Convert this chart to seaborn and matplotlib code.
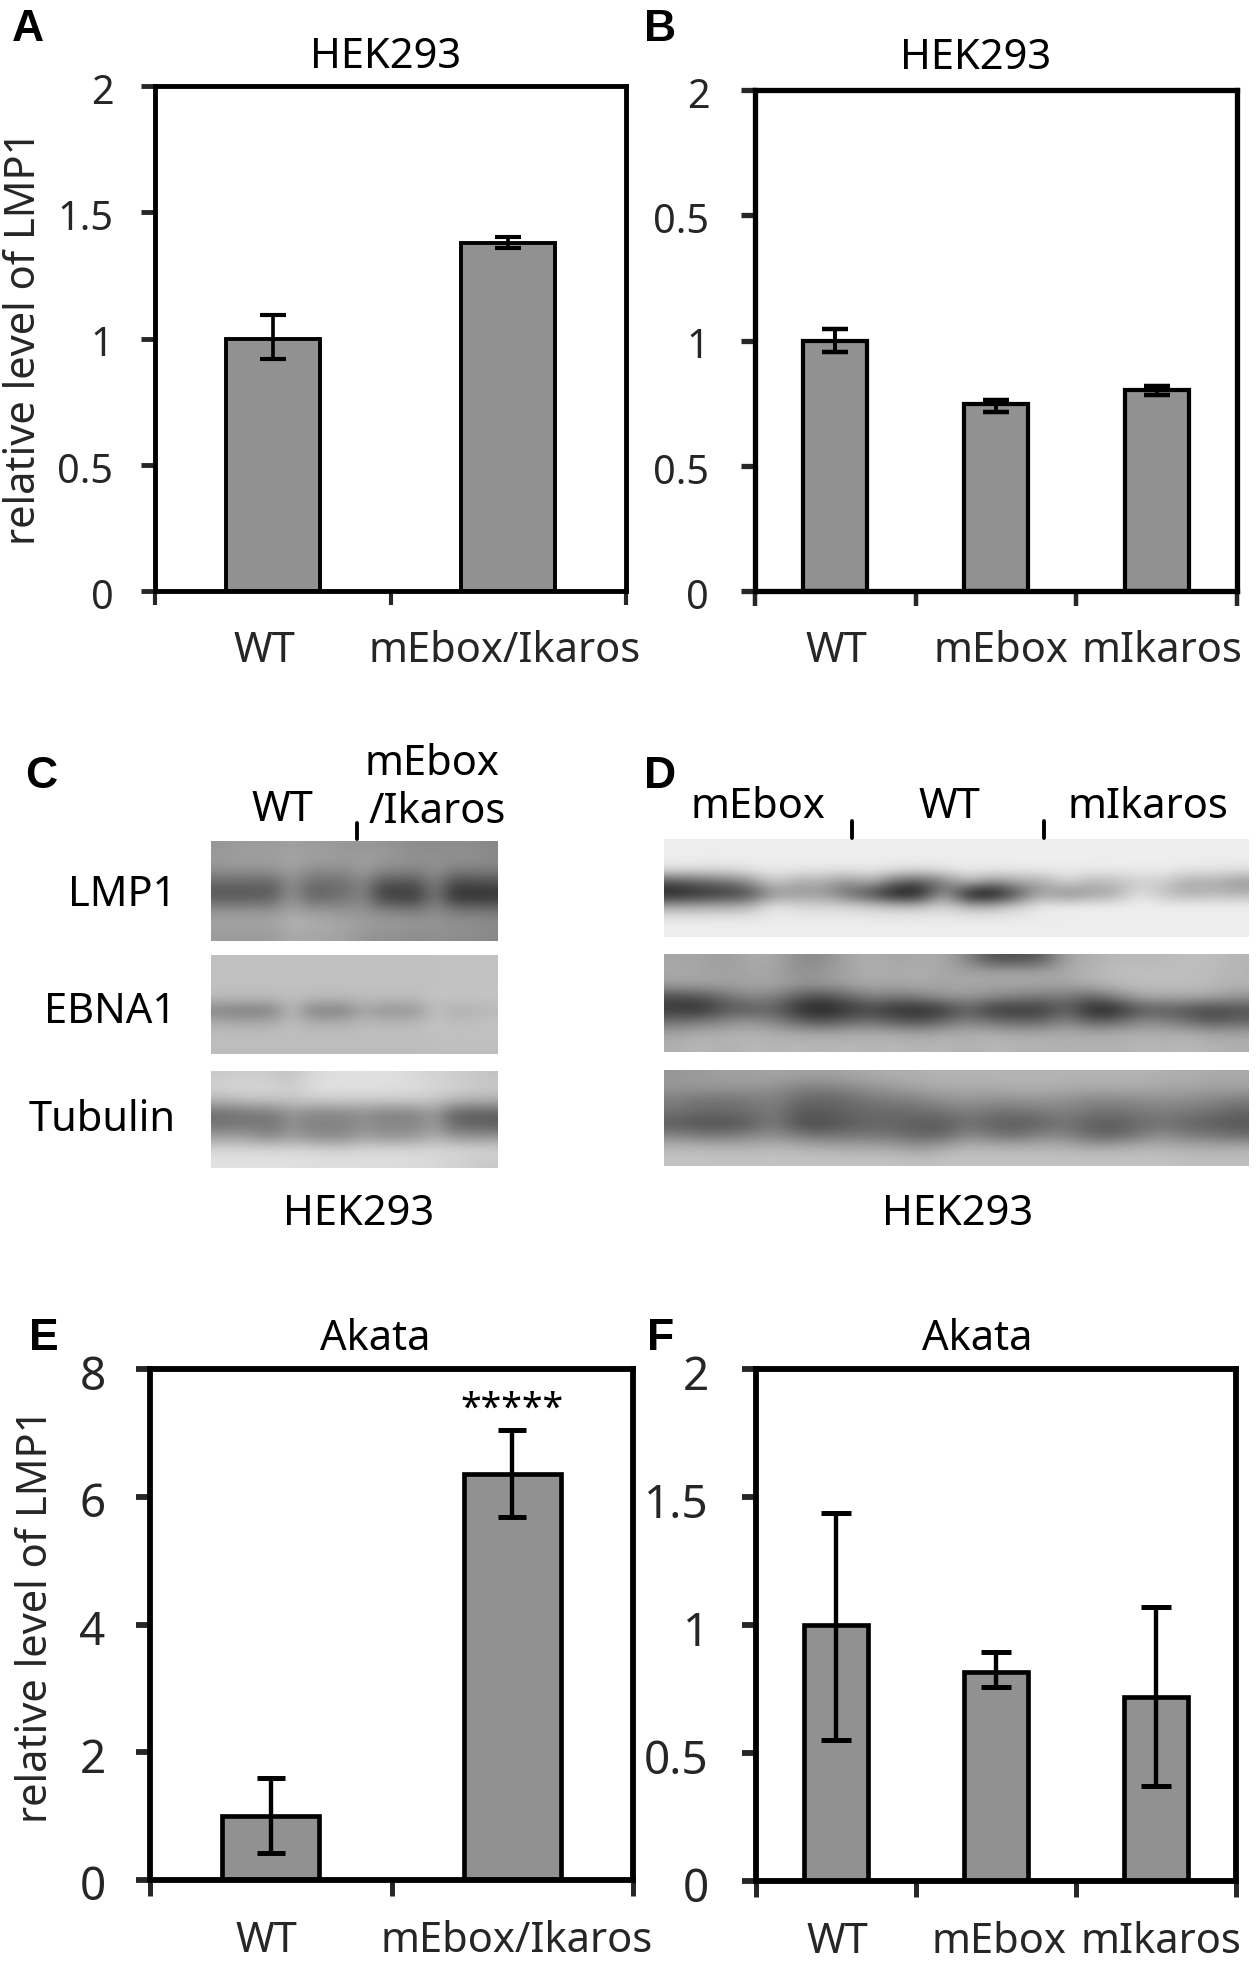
import numpy as np
import pandas as pd
import seaborn as sns
import matplotlib.pyplot as plt
from matplotlib.lines import Line2D
from matplotlib.transforms import ScaledTranslation

W, H = 1257, 1966

# bar values
a_groups = ['WT', 'mEbox/Ikaros']
a_level = [1.0, 1.38]
a_low = [0.92, 1.358]
a_high = [1.093, 1.402]

b_groups = ['WT', 'mEbox', 'mIkaros']
b_level = [1.0, 0.746, 0.803]
b_low = [0.953, 0.715, 0.781]
b_high = [1.045, 0.764, 0.817]

e_groups = ['WT', 'mEbox/Ikaros']
e_level = [1.0, 6.36]
e_low = [0.43, 5.68]
e_high = [1.6, 7.04]

f_groups = ['WT', 'mEbox', 'mIkaros']
f_level = [1.0, 0.818, 0.719]
f_low = [0.549, 0.758, 0.373]
f_high = [1.437, 0.893, 1.07]

ticks_2 = [0, 0.5, 1, 1.5, 2]
ticks_8 = [0, 2, 4, 6, 8]
labels_2 = ['0', '0.5', '1', '1.5', '2']
labels_b = ['0', '0.5', '1', '0.5', '2']  # the original panel really says 0.5 twice
labels_8 = ['0', '2', '4', '6', '8']

# blot grey levels, read by eye on a coarse grid (0 black, 255 white)
c_lmp1 = [
    [150,155,155,155,160,155,155,150,150,150,145,140,140,140,140,135],
    [155,160,160,160,165,160,160,155,160,155,150,145,145,145,145,140],
    [140,140,140,140,160,135,135,135,155,130,130,125,145,120,120,120],
    [95,95,95,95,145,105,105,110,135,75,75,75,130,65,65,70],
    [90,90,90,95,150,100,105,115,135,65,60,60,125,50,50,50],
    [145,145,145,145,165,150,150,145,145,130,125,120,140,120,115,115],
    [165,165,165,165,180,175,170,165,160,155,155,150,150,145,145,140],
    [155,155,155,155,170,165,165,160,150,145,145,140,145,140,140,135],
]
c_ebna1 = [
    [192,192,192,192,192,192,192,192,192,192,192,192,192,194,194,194],
    [192,192,192,192,192,192,192,192,192,192,192,192,193,194,194,194],
    [192,192,192,192,192,192,192,192,192,192,192,192,193,194,194,194],
    [185,185,185,185,190,185,185,185,188,188,188,188,195,195,195,195],
    [128,122,122,128,188,128,125,128,165,145,145,150,192,172,178,182],
    [175,172,172,175,188,178,175,178,186,184,184,186,195,190,190,195],
    [190,190,190,190,190,190,190,190,190,190,190,190,192,192,192,192],
    [188,188,188,188,188,188,188,188,188,188,188,188,190,190,190,190],
]
c_tubulin = [
    [200,205,205,200,195,215,220,222,222,222,220,215,210,205,200,195],
    [210,215,215,215,205,220,225,225,225,225,222,220,215,210,205,200],
    [180,185,190,190,195,200,200,200,200,200,200,200,195,180,175,175],
    [110,115,120,125,150,135,135,135,145,130,130,135,155,100,95,95],
    [115,120,120,115,145,130,130,130,145,135,135,135,155,105,100,95],
    [160,160,150,140,160,140,140,140,160,150,150,155,175,155,150,150],
    [215,215,215,215,215,215,210,210,215,215,215,215,215,215,212,210],
    [225,225,225,225,225,222,222,222,222,222,220,218,215,210,205,200],
]
d_lmp1 = [
    [236,236,236,236,236,236,236,236,236,236,236,236,236,236,236,236,236,236,236,236,236,236,236,236],
    [238,238,238,238,238,238,238,238,238,238,238,238,238,238,238,238,238,238,238,238,238,238,238,238],
    [225,220,220,228,235,232,232,228,235,225,222,228,236,232,235,235,236,234,234,235,236,230,228,226],
    [80,100,110,140,205,165,175,140,175,100,85,120,190,140,170,165,215,180,190,205,205,165,175,150],
    [30,45,55,70,150,150,155,110,70,15,15,170,5,0,80,170,130,160,165,230,190,175,185,180],
    [170,170,175,180,235,215,215,215,205,195,195,215,180,185,210,235,240,240,240,240,240,240,240,240],
    [232,232,232,232,234,234,234,234,234,234,234,234,234,234,234,234,235,235,235,235,235,235,235,235],
    [238,238,238,238,238,238,238,238,238,238,238,238,238,238,238,238,238,238,238,238,238,238,238,238],
]
d_ebna1 = [
    [165,165,155,170,170,140,140,165,175,165,170,170,130,80,80,90,165,175,185,185,185,190,190,180],
    [170,165,160,165,165,145,150,165,175,170,175,165,165,165,170,165,170,180,190,190,190,190,185,180],
    [160,165,160,165,165,150,150,160,170,165,170,165,170,165,165,165,165,175,185,190,190,190,185,180],
    [75,80,110,135,130,90,75,100,130,120,130,150,150,140,130,120,120,100,130,165,170,170,165,150],
    [55,45,85,85,100,45,30,50,70,45,40,55,100,50,55,55,100,35,35,85,90,80,65,80],
    [110,120,135,150,130,100,80,100,110,90,80,105,130,110,100,100,135,95,100,135,130,110,85,100],
    [165,175,175,180,175,170,170,170,175,170,165,170,175,175,170,170,175,170,175,175,175,175,165,165],
    [175,185,175,185,180,185,180,185,180,185,180,185,175,185,180,180,175,180,175,185,180,185,180,175],
]
d_tubulin = [
    [150,155,160,160,165,160,160,165,170,175,175,180,180,180,180,180,180,180,180,180,175,175,170,170],
    [150,150,150,150,145,130,125,135,145,155,165,170,170,170,175,175,170,170,170,170,165,165,160,160],
    [125,115,115,120,130,105,100,105,120,125,130,145,150,145,145,150,145,135,135,140,145,140,135,125],
    [115,105,105,110,125,90,90,100,105,105,110,115,125,115,115,120,130,115,115,120,125,120,110,100],
    [90,80,80,90,125,80,75,90,100,100,90,90,115,95,90,100,115,95,90,105,115,100,95,85],
    [135,125,125,135,145,125,115,120,120,115,100,105,140,120,115,135,135,105,100,125,145,125,120,110],
    [185,185,180,180,185,180,175,170,170,165,155,170,185,180,180,180,180,170,175,180,180,175,175,175],
    [195,195,195,195,195,195,195,195,195,195,190,195,195,195,195,195,195,195,195,195,195,190,190,190],
]

sns.set_style('white')
plt.rcParams['font.family'] = ['Noto Sans', 'DejaVu Sans']

fig = plt.figure(figsize=(W / 100, H / 100), dpi=100)


def px_axes(left, top, right, bottom):
    return fig.add_axes([left / W, 1 - bottom / H, (right - left) / W, (bottom - top) / H])


def put(x, y, s, size=30, ha='center', **kw):
    # x, y are pixels in the picture, y is the text baseline
    fig.text(x / W, 1 - y / H, s, fontsize=size, ha=ha, va='baseline', color='black', **kw)


def bars(box, groups, level, low, high, yticks, ylabels, lw, shifts, tick_size, tick_pad, x_pad=28, capsize=9.4):
    ax = px_axes(*box)
    df = pd.DataFrame({'group': groups, 'level': level})
    sns.barplot(data=df, x='group', y='level', color='#919191', saturation=1, width=0.4,
                edgecolor='black', linewidth=lw * 0.8, errorbar=None, ax=ax)
    x = np.arange(len(groups))
    level = np.array(level)
    ax.errorbar(x, level, yerr=[level - np.array(low), np.array(high) - level], fmt='none',
                ecolor='black', elinewidth=lw * 0.75, capsize=capsize, capthick=lw * 0.85, zorder=5)
    ax.set_xlim(-0.5, len(groups) - 0.5)
    ax.set_ylim(yticks[0], yticks[-1])
    ax.set_xlabel('')
    ax.set_ylabel('')
    for s in ax.spines.values():
        s.set_visible(True)
        s.set_linewidth(lw)
        s.set_color('black')
    ax.set_xticks(np.arange(len(groups) + 1) - 0.5, [''] * (len(groups) + 1))
    ax.set_xticks(x, groups, minor=True, fontsize=30)
    ax.set_yticks(yticks, ylabels, fontsize=tick_size)
    ax.tick_params(axis='x', which='major', length=lw * 2.8, width=lw * 0.85, direction='out', bottom=True)
    ax.tick_params(axis='x', which='minor', length=0, pad=x_pad, bottom=True)
    ax.tick_params(axis='y', length=10, width=lw, pad=tick_pad, left=True)
    # labels sit a little off the ticks in the original
    down = ScaledTranslation(0, -3 / 100, fig.dpi_scale_trans)
    for lab in ax.get_yticklabels():
        lab.set_transform(lab.get_transform() + down)
    for lab, dx in zip(ax.get_xticklabels(minor=True), shifts):
        lab.set_transform(lab.get_transform() + ScaledTranslation(dx / 100, 0, fig.dpi_scale_trans))
    return ax


bars((155, 86, 626, 591), a_groups, a_level, a_low, a_high, ticks_2, labels_2, 3.5, [-8, -4], 28.5, 20)
bars((755, 90, 1237, 591), b_groups, b_level, b_low, b_high, ticks_2, labels_b, 3.8, [1, 5, 5], 28.5, 23)
ax_e = bars((150, 1369, 633, 1880), e_groups, e_level, e_low, e_high, ticks_8, labels_8, 4.2, [-4, 4],
            33, 22, x_pad=28.5, capsize=10)
bars((756, 1369, 1236, 1881), f_groups, f_level, f_low, f_high, ticks_2, labels_2, 4.2, [1, 3, 5],
     33, 24, x_pad=28.5, capsize=10.5)

ax_e.text(1, 7.37, '*****', fontsize=27, ha='center', va='center', color='black')

# panel titles and y labels
put(386, 68, 'HEK293')
put(976, 69, 'HEK293')
put(375, 1350, 'Akata')
put(977, 1350, 'Akata')
fig.text(24 / W, 1 - 338 / H, 'relative level of LMP1', fontsize=30, rotation=90, ha='center', va='center')
fig.text(36 / W, 1 - 1616 / H, 'relative level of LMP1', fontsize=30, rotation=90, ha='center', va='center')

# panel letters
for letter, x, y in [('A', 12, 41), ('B', 644, 41), ('C', 25, 788),
                     ('D', 644, 788), ('E', 29, 1350), ('F', 647, 1350)]:
    put(x, y, letter, size=32, ha='left', fontweight='bold', family='Liberation Sans')


def blot(box, grid):
    ax = px_axes(*box)
    ax.imshow(np.array(grid), cmap='gray', vmin=0, vmax=255, aspect='auto', interpolation='bicubic')
    ax.axis('off')


blot((211, 841, 498, 941), c_lmp1)
blot((211, 955, 498, 1054), c_ebna1)
blot((211, 1071, 498, 1168), c_tubulin)
blot((664, 839, 1249, 937), d_lmp1)
blot((664, 954, 1249, 1052), d_ebna1)
blot((664, 1070, 1249, 1166), d_tubulin)

# lane labels round the blots
put(282, 821, 'WT')
put(432, 775, 'mEbox')
put(437, 823, '/Ikaros')
put(176, 906, 'LMP1', ha='right')
put(176, 1023, 'EBNA1', ha='right')
put(176, 1131, 'Tubulin', ha='right')
put(359, 1225, 'HEK293')
put(758, 818, 'mEbox')
put(949, 818, 'WT')
put(1148, 818, 'mIkaros')
put(958, 1225, 'HEK293')

# small dividers above the lanes
for x, y0, y1 in [(357, 823, 839), (852, 821, 838), (1044, 821, 838)]:
    fig.add_artist(Line2D([x / W, x / W], [1 - y0 / H, 1 - y1 / H], color='black', lw=2.8))

fig.savefig('out.png', dpi=100)
